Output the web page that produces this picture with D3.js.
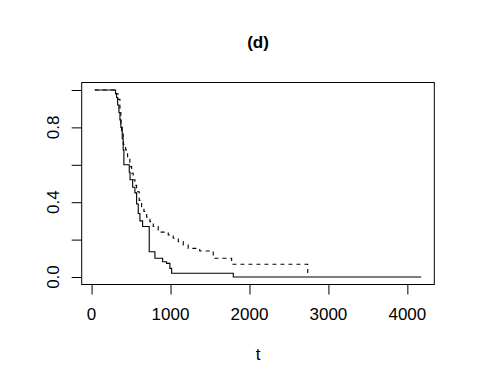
<!DOCTYPE html>
<html>
<head>
<meta charset="utf-8">
<script src="https://cdn.jsdelivr.net/npm/d3@7"></script>
<style>
  html, body { margin: 0; padding: 0; background: #fff; }
  svg { display: block; }
  text { font-family: "Liberation Sans", Arial, Helvetica, sans-serif; fill: #000; }
</style>
</head>
<body>
<script>
// ---- data ----
const solidTimes = [40, 304, 317, 330, 346, 359, 371, 388, 400, 409, 477, 487, 520, 549, 570, 591, 612, 646, 730, 802, 900, 950, 992, 1014, 1795, 4176];
const solidSurv  = [1, 0.98, 0.96, 0.92, 0.88, 0.84, 0.80, 0.74, 0.68, 0.60, 0.56, 0.52, 0.48, 0.45, 0.39, 0.34, 0.30, 0.27, 0.135, 0.10, 0.082, 0.073, 0.046, 0.02, 0, 0];
const dashTimes = [40, 304, 337, 359, 371, 380, 401, 431, 456, 485, 507, 527, 549, 570, 603, 634, 663, 697, 739, 781, 844, 971, 1034, 1098, 1161, 1224, 1370, 1541, 1774, 2738];
const dashSurv  = [1, 0.98, 0.95, 0.88, 0.82, 0.77, 0.71, 0.68, 0.64, 0.59, 0.555, 0.52, 0.49, 0.456, 0.41, 0.376, 0.35, 0.32, 0.296, 0.27, 0.24, 0.225, 0.207, 0.189, 0.171, 0.153, 0.139, 0.10, 0.068, 0];
const xTicks = [0, 1000, 2000, 3000, 4000];
const yTicks = [0, 0.2, 0.4, 0.6, 0.8, 1.0];
const yLabels = [0, 0.4, 0.8];
const title = "(d)";
const xLabel = "t";

// ---- layout ----
const W = 477, H = 386;
const plot = { left: 81.7, right: 434.3, top: 82.5, bottom: 284.5 };

const svg = d3.select("body").append("svg").attr("width", W).attr("height", H);

const allT = solidTimes.concat(dashTimes);
const tMin = d3.min(allT), tMax = d3.max(allT);
const tPad = 0.04 * (tMax - tMin);
const x = d3.scaleLinear().domain([tMin - tPad, tMax + tPad]).range([plot.left, plot.right]);
const y = d3.scaleLinear().domain([-0.04, 1.04]).range([plot.bottom, plot.top]);

const line = d3.line().x(d => x(d[0])).y(d => y(d[1])).curve(d3.curveStepAfter);

svg.append("path")
  .datum(d3.zip(solidTimes, solidSurv))
  .attr("d", line)
  .attr("fill", "none").attr("stroke", "#000").attr("stroke-width", 1.1);

svg.append("path")
  .datum(d3.zip(dashTimes, dashSurv))
  .attr("d", line)
  .attr("fill", "none").attr("stroke", "#000").attr("stroke-width", 1.1)
  .attr("stroke-dasharray", "4,4");

// box
svg.append("rect")
  .attr("x", plot.left).attr("y", plot.top)
  .attr("width", plot.right - plot.left).attr("height", plot.bottom - plot.top)
  .attr("fill", "none").attr("stroke", "#000").attr("stroke-width", 1);

// x axis
const gx = svg.append("g").attr("transform", `translate(0,${plot.bottom})`)
  .call(d3.axisBottom(x).tickValues(xTicks).tickSize(10).tickSizeOuter(0).tickFormat(""));
gx.selectAll("text").remove();
gx.selectAll("line, path").attr("stroke", "#000");
gx.select(".domain").remove();
svg.append("line").attr("x1", x(xTicks[0])).attr("x2", x(xTicks[xTicks.length - 1]))
  .attr("y1", plot.bottom).attr("y2", plot.bottom).attr("stroke", "#000");
svg.selectAll(".xlab").data(xTicks).enter().append("text")
  .attr("class", "xlab")
  .attr("x", d => x(d)).attr("y", 320)
  .attr("text-anchor", "middle").attr("font-size", 17)
  .text(d => d3.format("d")(d));

// y axis
const gy = svg.append("g").attr("transform", `translate(${plot.left},0)`)
  .call(d3.axisLeft(y).tickValues(yTicks).tickSize(10).tickSizeOuter(0).tickFormat(""));
gy.selectAll("text").remove();
gy.selectAll("line, path").attr("stroke", "#000");
gy.select(".domain").remove();
svg.selectAll(".ylab").data(yLabels).enter().append("text")
  .attr("class", "ylab")
  .attr("transform", d => `translate(58.5,${y(d)}) rotate(-90)`)
  .attr("text-anchor", "middle").attr("font-size", 17)
  .text(d => d3.format(".1f")(d));

// title and x label
svg.append("text").attr("x", (plot.left + plot.right) / 2).attr("y", 48)
  .attr("text-anchor", "middle").attr("font-size", 17).attr("font-weight", "bold")
  .text(title);
svg.append("text").attr("x", (plot.left + plot.right) / 2).attr("y", 360)
  .attr("text-anchor", "middle").attr("font-size", 17)
  .text(xLabel);
</script>
</body>
</html>
